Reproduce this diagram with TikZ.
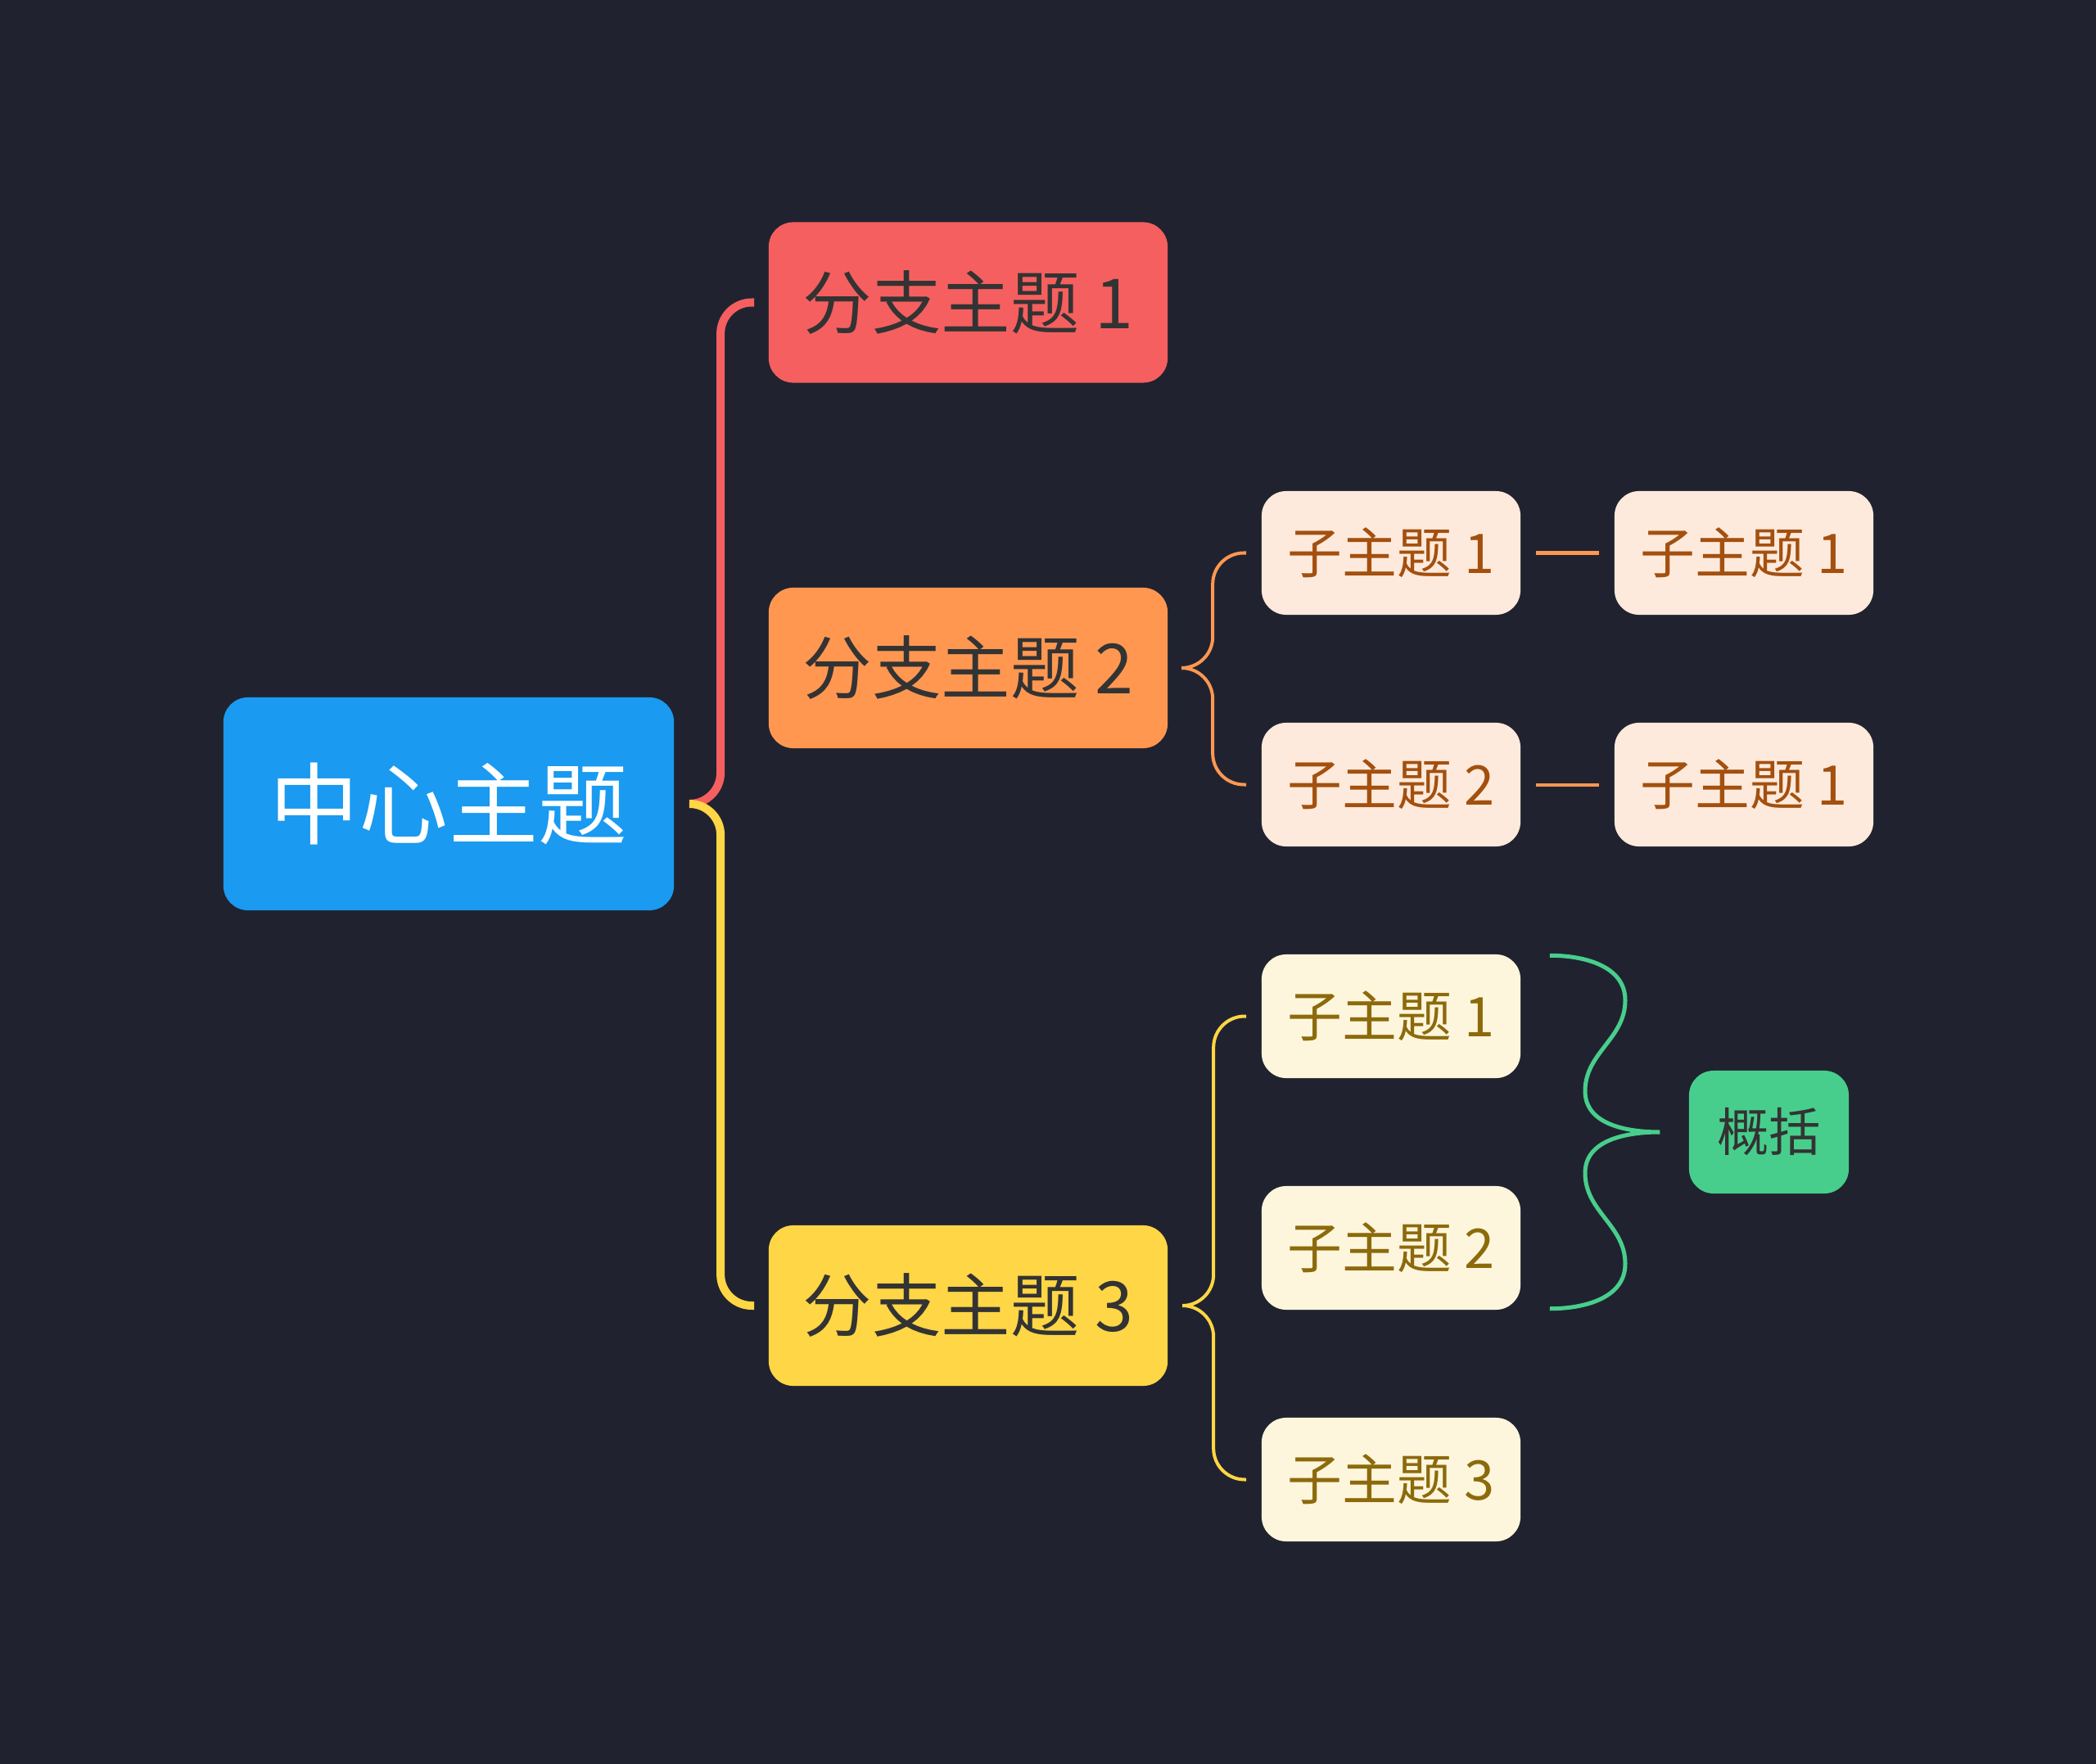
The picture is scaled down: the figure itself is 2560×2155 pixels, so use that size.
\documentclass[tikz,border=0pt]{standalone}
\usepackage{fontspec}
\setmainfont{Noto Sans CJK SC}
\definecolor{bgdark}{HTML}{20232F}
\definecolor{topicblue}{HTML}{1A9AF0}
\definecolor{branchred}{HTML}{F65F5F}
\definecolor{branchorange}{HTML}{FF9751}
\definecolor{branchyellow}{HTML}{FFD645}
\definecolor{subpeach}{HTML}{FEEADC}
\definecolor{subcream}{HTML}{FEF6DC}
\definecolor{peachtext}{HTML}{A3500F}
\definecolor{creamtext}{HTML}{8C6A0C}
\definecolor{summgreen}{HTML}{48CE8C}
\definecolor{darktext}{HTML}{333333}
\tikzset{
  every topic/.style={
    rectangle,
    rounded corners=0.3cm,
    inner sep=0pt,
    align=center
  },
  central/.style={every topic, fill=topicblue, text=white, minimum width=5.5cm, minimum height=2.6cm, font=\fontsize{31pt}{36pt}\selectfont},
  branch/.style={every topic, text=darktext, minimum width=4.87cm, minimum height=1.96cm, font=\fontsize{24pt}{28pt}\selectfont},
  subtopic/.style={every topic, minimum width=3.16cm, minimum height=1.51cm, font=\fontsize{19pt}{22pt}\selectfont},
  summary/.style={every topic, fill=summgreen, text=darktext, minimum width=1.95cm, minimum height=1.5cm, font=\fontsize{18pt}{22pt}\selectfont},
}
\tikzstyle{thick link} = [line width=0.1cm, rounded corners=0.38cm]
\tikzstyle{thin link} = [line width=0.04cm, rounded corners=0.38cm]

\begin{document}
\begin{tikzpicture}[x=0.01cm, y=-0.01cm]
        \fill[bgdark] (0,0) rectangle (2560,2155);

        % blocks
        \node [central] (center) at (548,982) {中心主题};
        \node [branch, fill=branchred] (b1) at (1182.5,369.5) {分支主题 1};
        \node [branch, fill=branchorange] (b2) at (1182.5,816) {分支主题 2};
        \node [branch, fill=branchyellow] (b3) at (1182.5,1595) {分支主题 3};
        \node [subtopic, fill=subpeach, text=peachtext] (b2s1) at (1699,675.5) {子主题 1};
        \node [subtopic, fill=subpeach, text=peachtext] (b2s2) at (1699,958.5) {子主题 2};
        \node [subtopic, fill=subpeach, text=peachtext] (b2s1c) at (2130,675.5) {子主题 1};
        \node [subtopic, fill=subpeach, text=peachtext] (b2s2c) at (2130,958.5) {子主题 1};
        \node [subtopic, fill=subcream, text=creamtext] (b3s1) at (1699,1241.5) {子主题 1};
        \node [subtopic, fill=subcream, text=creamtext] (b3s2) at (1699,1524.5) {子主题 2};
        \node [subtopic, fill=subcream, text=creamtext] (b3s3) at (1699,1807.5) {子主题 3};
        \node [summary] (summ) at (2160.5,1383) {概括};

        % arrows
        \draw [thick link, branchred] ([xshift=0.19cm]center.east) -| ([xshift=-0.58cm]b1.west) -- ([xshift=-0.17cm]b1.west);
        \draw [thick link, branchyellow] ([xshift=0.19cm]center.east) -| ([xshift=-0.58cm]b3.west) -- ([xshift=-0.17cm]b3.west);
        \draw [thin link, branchorange] ([xshift=0.18cm]b2.east) -| ([xshift=-0.59cm]b2s1.west) -- ([xshift=-0.18cm]b2s1.west);
        \draw [thin link, branchorange] ([xshift=0.18cm]b2.east) -| ([xshift=-0.59cm]b2s2.west) -- ([xshift=-0.18cm]b2s2.west);
        \draw [thin link, branchorange] ([xshift=0.18cm]b2s1.east) -- ([xshift=-0.18cm]b2s1c.west);
        \draw [thin link, branchorange] ([xshift=0.18cm]b2s2.east) -- ([xshift=-0.18cm]b2s2c.west);
        \draw [thin link, branchyellow] ([xshift=0.18cm]b3.east) -| ([xshift=-0.58cm]b3s1.west) -- ([xshift=-0.18cm]b3s1.west);
        \draw [thin link, branchyellow] ([xshift=0.18cm]b3.east) -| ([xshift=-0.58cm]b3s3.west) -- ([xshift=-0.18cm]b3s3.west);

        % summary brace
        \coordinate (sumtop) at ([shift={(35,2)}]b3s1.north east);
        \coordinate (sumbot) at ([shift={(35,-2)}]b3s2.south east);
        \coordinate (sumtip) at ([xshift=-0.35cm]summ.west);
        \draw [summgreen, line width=0.05cm] (sumtop) to[out=0,in=90] (1985,1222) to[out=-90,in=90] (1936,1333) to[out=-90,in=180] (sumtip)
              to[out=180,in=90] (1936,1433) to[out=-90,in=90] (1985,1544) to[out=-90,in=0] (sumbot);
\end{tikzpicture}
\end{document}
